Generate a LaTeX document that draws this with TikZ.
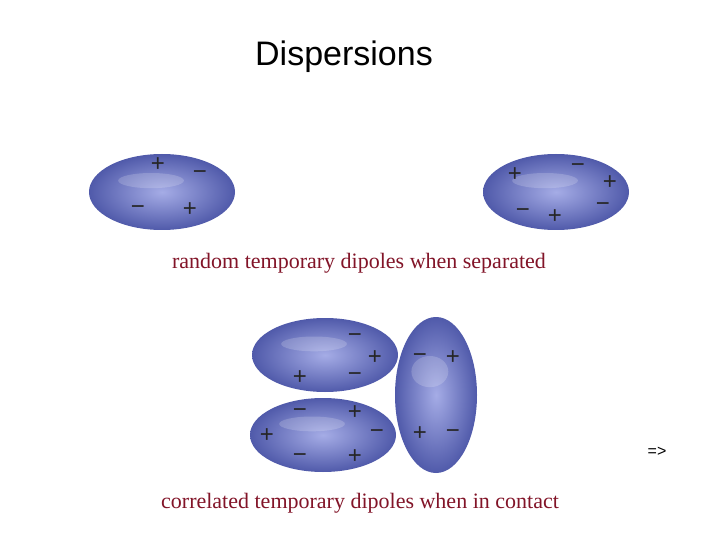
\documentclass[tikz,border=0pt]{standalone}
\usepackage{fontspec}
\setmainfont{Liberation Serif}
\newfontfamily\arial{Liberation Sans}
\begin{document}
\begin{tikzpicture}[x=1pt,y=-1pt,
  blob/.style={draw=none,inner color={rgb,255:red,165;green,172;blue,230},outer color={rgb,255:red,80;green,90;blue,170}},
  sg/.style={font=\arial\fontsize{24}{24}\selectfont,inner sep=0pt,text=black!85}]
\useasboundingbox (0,0) rectangle (720,540);
\fill[white] (0,0) rectangle (720,540);
\node[font=\arial\fontsize{34}{34}\selectfont] (title) at (344,57) {Dispersions};
% ellipses
\foreach \n/\cx/\cy/\rx/\ry in {e1/162/192/73/38, e2/556/192/73/38, e3/325/355/73/37, e4/323/435/73/37, e5/436/395/41/78}{
  \shade[blob] (\cx,\cy) ellipse [x radius=\rx, y radius=\ry];
  \fill[white,opacity=0.18] (\cx-0.15*\rx,\cy-0.3*\ry) ellipse [x radius=0.45*\rx, y radius=0.2*\ry];
}
\foreach \s/\x/\y in {+/158/165, −/200/175, −/138/210, +/190/210,
  +/515/175, −/578/168, +/610/183, −/523/213, +/555/217, −/603/207,
  −/355/338, +/375/358, +/300/378, −/355/377,
  −/300/413, +/355/413, +/267/436, −/377/434, −/300/458, +/355/457,
  −/420/358, +/453/358, +/420/434, −/453/434}
  \node[sg] at (\x,\y) {\s};
\node[font=\fontsize{22}{22}\selectfont,text={rgb,255:red,130;green,20;blue,40}] (l1) at (359,263) {random temporary dipoles when separated};
\node[font=\fontsize{22}{22}\selectfont,text={rgb,255:red,130;green,20;blue,40}] (l2) at (360,503) {correlated temporary dipoles when in contact};
\node[font=\arial\fontsize{16}{16}\selectfont] (arr) at (657,452) {=>};
\end{tikzpicture}
\end{document}
